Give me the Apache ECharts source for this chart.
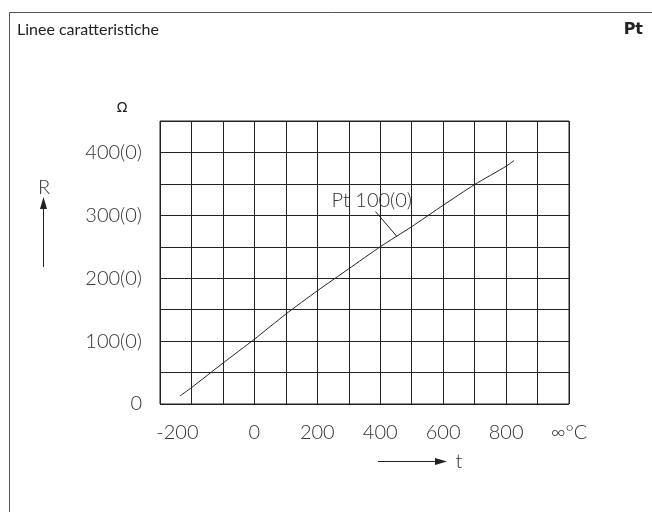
<!DOCTYPE html>
<html>
<head>
<meta charset="utf-8">
<script src="https://cdn.jsdelivr.net/npm/echarts@6/dist/echarts.min.js"></script>
<style>
html,body{margin:0;padding:0;background:#fff;}
#c{width:652px;height:512px;}
</style>
</head>
<body>
<div id="c"></div>
<script>
// Data
var temps = [-237, -200, -100, 0, 100, 200, 300, 400, 500, 600, 700, 800, 825];
var resist = [12.7, 26, 65, 103, 143, 180, 215, 250, 282, 316, 349, 378, 387];
var xTickValues = [-200, 0, 200, 400, 600, 800, 1000];
var xTickLabels = ['-200', '0', '200', '400', '600', '800', '∞°C'];
var yTickValues = [0, 100, 200, 300, 400];
var yTickLabels = ['0', '100(0)', '200(0)', '300(0)', '400(0)'];
var curveName = 'Pt 100(0)';
var labelPos = [373, 323];
var leader = [[385, 306], [452, 267]];

var FONT = 'Lato, "DejaVu Sans Condensed", sans-serif';
var FW = 300;
var FS = 20;
var chart = echarts.init(document.getElementById('c'), null, {renderer: 'canvas'});

var data = temps.map(function (t, i) { return [t, resist[i]]; });

chart.setOption({
  backgroundColor: '#fff',
  animation: false,
  grid: {left: 160, top: 121, width: 409, height: 283, show: true, borderColor: '#222', borderWidth: 1, backgroundColor: 'transparent'},
  xAxis: {
    type: 'value', min: -300, max: 1000, interval: 100,
    axisLine: {show: false}, axisTick: {show: false},
    splitLine: {show: true, lineStyle: {color: '#222', width: 1}},
    axisLabel: {
      margin: 19, color: '#333', fontFamily: FONT, fontSize: FS, fontWeight: FW,
      showMinLabel: true, showMaxLabel: true,
      formatter: function (v) {
        var i = xTickValues.indexOf(v);
        if (i < 0) return '';
        if (i === 0) return '{s|' + xTickLabels[i] + '}';
        return xTickLabels[i];
      },
      rich: {s: {color: '#333', fontFamily: FONT, fontSize: FS, fontWeight: FW, padding: [0, 28, 0, 0]}}
    }
  },
  yAxis: {
    type: 'value', min: 0, max: 450, interval: 50,
    axisLine: {show: false}, axisTick: {show: false},
    splitLine: {show: true, lineStyle: {color: '#222', width: 1}},
    axisLabel: {
      margin: 18, color: '#333', fontFamily: FONT, fontSize: FS, fontWeight: FW,
      formatter: function (v) {
        var i = yTickValues.indexOf(v);
        return i < 0 ? '' : yTickLabels[i];
      }
    }
  },
  series: [{
    type: 'line', data: data, smooth: 0.2, symbol: 'none',
    lineStyle: {color: '#222', width: 1},
    markPoint: {
      silent: true,
      data: [{coord: labelPos, symbol: 'circle', symbolSize: 0,
        label: {show: true, position: 'inside', formatter: curveName, color: '#333', fontFamily: FONT, fontSize: FS, fontWeight: FW}}]
    },
    markLine: {
      silent: true, symbol: ['none', 'none'],
      lineStyle: {color: '#222', width: 1, type: 'solid'},
      label: {show: false},
      data: [[{coord: leader[0]}, {coord: leader[1]}]]
    }
  }],
  graphic: [
    {type: 'rect', shape: {x: 9.5, y: 12.5, width: 700, height: 600}, style: {fill: 'none', stroke: '#555', lineWidth: 1}},
    {type: 'text', left: 17, top: 22, style: {text: 'Linee caratteristiche', font: '16px Lato, "DejaVu Sans Condensed", sans-serif', fill: '#222'}},
    {type: 'text', right: 9, top: 22, style: {text: 'Pt', font: 'bold 16px "DejaVu Sans", sans-serif', fill: '#222'}},
    {type: 'text', x: 122, y: 108, style: {text: 'Ω', font: '14px "DejaVu Sans", sans-serif', fill: '#222', align: 'center', verticalAlign: 'middle'}},
    {type: 'text', x: 44, y: 188, style: {text: 'R', font: '300 20px Lato, "DejaVu Sans Condensed", sans-serif', fill: '#333', align: 'center', verticalAlign: 'middle'}},
    {type: 'line', shape: {x1: 43.5, y1: 267, x2: 43.5, y2: 205}, style: {stroke: '#222', lineWidth: 1}},
    {type: 'polygon', shape: {points: [[43.5, 197], [40, 209], [47, 209]]}, style: {fill: '#222'}},
    {type: 'line', shape: {x1: 378, y1: 461.5, x2: 440, y2: 461.5}, style: {stroke: '#222', lineWidth: 1}},
    {type: 'polygon', shape: {points: [[447, 461.5], [435, 458], [435, 465]]}, style: {fill: '#222'}},
    {type: 'text', x: 459, y: 462, style: {text: 't', font: '300 20px Lato, "DejaVu Sans Condensed", sans-serif', fill: '#333', align: 'center', verticalAlign: 'middle'}}
  ]
});
</script>
</body>
</html>
